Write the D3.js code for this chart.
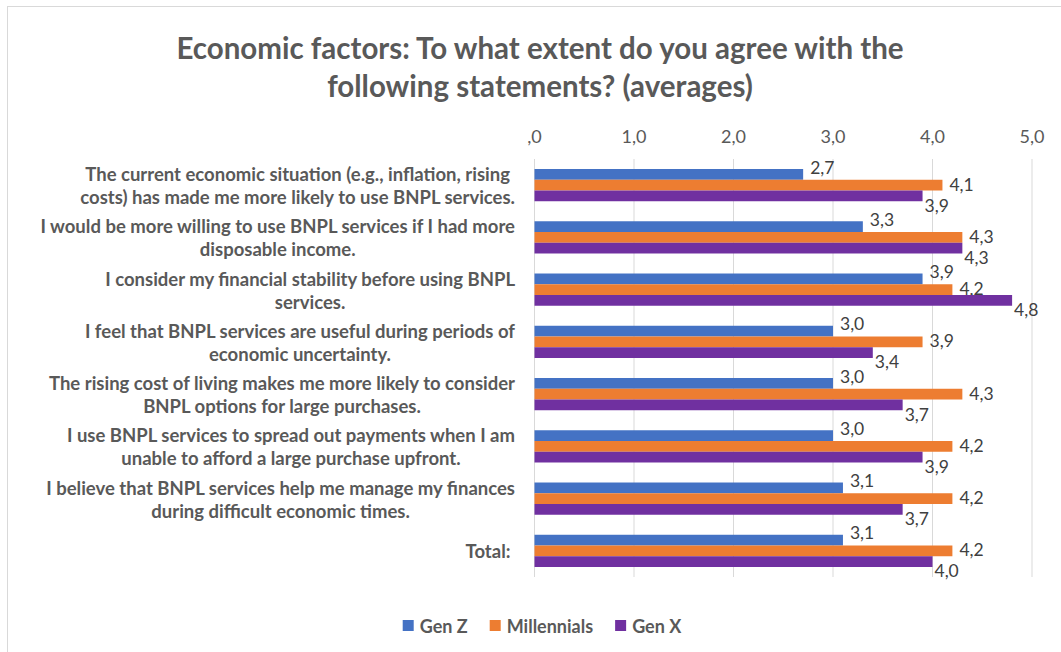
<!DOCTYPE html>
<html>
<head>
<meta charset="utf-8">
<script src="https://cdn.jsdelivr.net/npm/d3@7"></script>
<style>
  body { margin: 0; background: #fff; }
  text { font-family: Lato, "Open Sans", sans-serif; }
</style>
</head>
<body>
<svg id="chart"></svg>
<script>
const titleLines = [
  "Economic factors: To what extent do you agree with the",
  "following statements? (averages)"
];

const categories = [
  ["The current economic situation (e.g., inflation, rising", "costs) has made me more likely to use BNPL services."],
  ["I would be more willing to use BNPL services if I had more", "disposable income."],
  ["I consider my financial stability before using BNPL", "services."],
  ["I feel that BNPL services are useful during periods of", "economic uncertainty."],
  ["The rising cost of living makes me more likely to consider", "BNPL options for large purchases."],
  ["I use BNPL services to spread out payments when I am", "unable to afford a large purchase upfront."],
  ["I believe that BNPL services help me manage my finances", "during difficult economic times."],
  ["Total:\u00a0"]
];

const seriesNames = ["Gen Z", "Millennials", "Gen X"];
const genZ = [2.7, 3.3, 3.9, 3.0, 3.0, 3.0, 3.1, 3.1];
const millennials = [4.1, 4.3, 4.2, 3.9, 4.3, 4.2, 4.2, 4.2];
const genX = [3.9, 4.3, 4.8, 3.4, 3.7, 3.9, 3.7, 4.0];
const xTicks = [0, 1, 2, 3, 4, 5];

const colors = ["#4472C4", "#ED7D31", "#7030A0"];
const allSeries = [genZ, millennials, genX];

const width = 1061, height = 652;
const plot = { left: 534.5, right: 1032, top: 159, bottom: 577 };

const svg = d3.select("#chart")
  .attr("width", width)
  .attr("height", height);

svg.append("rect")
  .attr("x", 7.5).attr("y", 6.5)
  .attr("width", 1100).attr("height", 700)
  .attr("fill", "#fff")
  .attr("stroke", "#d9d9d9");

// title
svg.append("g").selectAll("text")
  .data(titleLines)
  .enter().append("text")
  .attr("x", 540)
  .attr("y", (d, i) => 47 + i * 38)
  .attr("text-anchor", "middle")
  .attr("dominant-baseline", "central")
  .attr("font-size", 29.5)
  .attr("font-weight", "bold")
  .attr("fill", "#595959")
  .text(d => d);

const x = d3.scaleLinear()
  .domain([0, 5])
  .range([plot.left, plot.right]);

const y = d3.scaleBand()
  .domain(d3.range(categories.length))
  .range([plot.top, plot.bottom])
  .paddingInner(0.383)
  .paddingOuter(0.1915);

const ySub = d3.scaleBand()
  .domain(d3.range(seriesNames.length))
  .range([0, y.bandwidth()]);

// gridlines
svg.append("g").selectAll("line")
  .data(xTicks)
  .enter().append("line")
  .attr("x1", d => x(d)).attr("x2", d => x(d))
  .attr("y1", plot.top).attr("y2", plot.bottom)
  .attr("stroke", "#d9d9d9")
  .attr("stroke-width", 1);

// top axis labels
svg.append("g").selectAll("text")
  .data(xTicks)
  .enter().append("text")
  .attr("x", d => x(d))
  .attr("y", 136)
  .attr("text-anchor", "middle")
  .attr("dominant-baseline", "central")
  .attr("font-size", 18)
  .attr("fill", "#595959")
  .text(d => d === 0 ? ",0" : d3.format(".1f")(d).replace(".", ","));

// category labels
const catG = svg.append("g");
categories.forEach((lines, i) => {
  const g = catG.append("g");
  const cy = y(i) + y.bandwidth() / 2;
  const texts = g.selectAll("text")
    .data(lines)
    .enter().append("text")
    .attr("y", (d, j) => lines.length === 1 ? cy : cy - 11 + j * 23)
    .attr("text-anchor", "middle")
    .attr("dominant-baseline", "central")
    .attr("font-size", 18.5)
    .attr("font-weight", "bold")
    .attr("fill", "#595959")
    .text(d => d);
  let maxW = 0;
  texts.each(function() { maxW = Math.max(maxW, this.getComputedTextLength()); });
  texts.attr("x", 515 - maxW / 2);
});

// bars
const labelDx = [7, 7, 2];
allSeries.forEach((vals, s) => {
  svg.append("g").selectAll("rect")
    .data(vals)
    .enter().append("rect")
    .attr("x", x(0))
    .attr("y", (d, i) => y(i) + ySub(s))
    .attr("width", d => x(d) - x(0))
    .attr("height", ySub.bandwidth())
    .attr("fill", colors[s]);

  svg.append("g").selectAll("text")
    .data(vals)
    .enter().append("text")
    .attr("x", d => x(d) + labelDx[s])
    .attr("y", (d, i) => {
      const top = y(i) + ySub(s);
      if (s === 0) return top - 2;
      if (s === 1) return top + ySub.bandwidth() / 2 - 1;
      return top + ySub.bandwidth() + 4;
    })
    .attr("dominant-baseline", "central")
    .attr("font-size", 17.5)
    .attr("fill", "#404040")
    .text(d => d3.format(".1f")(d).replace(".", ","));
});

// legend
const legend = svg.append("g");
const items = legend.selectAll("g")
  .data(seriesNames)
  .enter().append("g");
items.append("rect")
  .attr("width", 11).attr("height", 11)
  .attr("y", 620)
  .attr("fill", (d, i) => colors[i]);
items.append("text")
  .attr("x", 17)
  .attr("y", 625.5)
  .attr("dominant-baseline", "central")
  .attr("font-size", 18)
  .attr("font-weight", "bold")
  .attr("fill", "#595959")
  .text(d => d);
const widths = [];
items.select("text").each(function() { widths.push(17 + this.getComputedTextLength()); });
const gap = 22;
const total = d3.sum(widths) + gap * (widths.length - 1);
let cx = 542 - total / 2;
items.each(function(d, i) {
  d3.select(this).attr("transform", `translate(${cx},0)`);
  cx += widths[i] + gap;
});
</script>
</body>
</html>
